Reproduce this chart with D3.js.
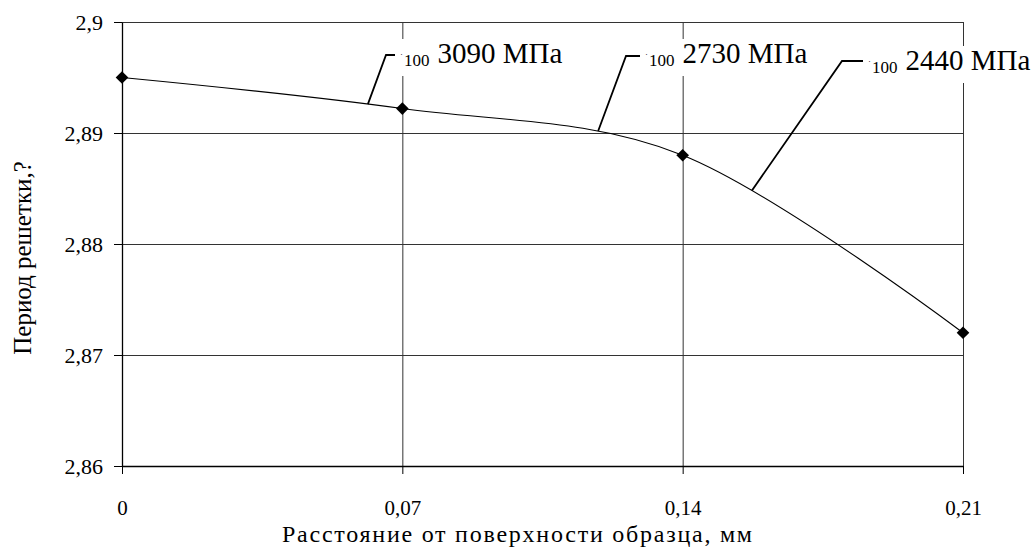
<!DOCTYPE html>
<html>
<head>
<meta charset="utf-8">
<script src="https://cdn.jsdelivr.net/npm/d3@7"></script>
<style>
  body { margin: 0; background: #fff; }
  svg text { font-family: "Liberation Serif", "Tinos", "Times New Roman", "DejaVu Serif", serif !important; fill: #000; }
</style>
</head>
<body>
<svg id="chart" width="1034" height="555"></svg>
<script>
// data
const distances = [0, 0.07, 0.14, 0.21];
const period = [2.895, 2.8922, 2.888, 2.872];
const xTicks = [0, 0.07, 0.14, 0.21];
const yTicks = [2.86, 2.87, 2.88, 2.89, 2.9];
const stressLabels = ["3090 МПа", "2730 МПа", "2440 МПа"];
const stressSub = ["100", "100", "100"];
const stressAt = [0.0614, 0.1189, 0.1573]; // where the leader touches the curve
const xTitle = "Расстояние от поверхности образца, мм";
const yTitle = "Период решетки,?";

// layout
const margin = { left: 122, right: 71, top: 22, bottom: 89 };
const W = 1034, H = 555;
const width = W - margin.left - margin.right,
  height = H - margin.top - margin.bottom;
// leader elbow + text placement (pixels)
const leaderTop = [[386, 55], [626, 56], [842, 61]];
const leaderEnd = [395, 640, 863];
const textBase = [63, 63, 70];

const comma = (d) => String(d).replace(".", ",");

const svg = d3.select("#chart");
const g = svg.append("g").attr("transform", `translate(${margin.left},${margin.top})`);

const x = d3.scaleLinear().domain([0, 0.21]).range([0, width]);
const y = d3.scaleLinear().domain([2.86, 2.9]).range([height, 0]);

// grid
g.append("g")
  .call(d3.axisLeft(y).tickValues(yTicks).tickSize(-width).tickFormat(""))
  .call((s) => s.select(".domain").remove())
  .selectAll("line")
  .attr("stroke", "#333");
g.append("g")
  .attr("transform", `translate(0,${height})`)
  .call(d3.axisBottom(x).tickValues(xTicks).tickSize(-height).tickFormat(""))
  .call((s) => s.select(".domain").remove())
  .selectAll("line")
  .attr("stroke", "#333");

// axes
const yAxis = g.append("g")
  .call(d3.axisLeft(y).tickValues(yTicks).tickSize(8).tickSizeOuter(0).tickPadding(11).tickFormat(comma));
const xAxis = g.append("g")
  .attr("transform", `translate(0,${height})`)
  .call(d3.axisBottom(x).tickValues(xTicks).tickSize(8).tickSizeOuter(0).tickPadding(26).tickFormat(comma));
[yAxis, xAxis].forEach((a) => {
  a.attr("font-family", null).attr("font-size", null);
  a.select(".domain").attr("stroke", "#000").attr("stroke-width", 1.3);
  a.selectAll(".tick line").attr("stroke", "#000");
});
yAxis.selectAll("text").style("font-size", "22px");
xAxis.selectAll("text").style("font-size", "21px");

// curve
const pts = distances.map((d, i) => [x(d), y(period[i])]);
const line = d3.line().curve(d3.curveCardinal.tension(0));
const path = g.append("path")
  .attr("d", line(pts))
  .attr("fill", "none")
  .attr("stroke", "#000")
  .attr("stroke-width", 1.1);

g.selectAll(".pt")
  .data(pts)
  .join("path")
  .attr("class", "pt")
  .attr("d", d3.symbol(d3.symbolSquare, 80))
  .attr("transform", (d) => `translate(${d[0]},${d[1]}) rotate(45)`)
  .attr("fill", "#000");

// find y of the curve at a given pixel x
function yOnPath(node, px) {
  let lo = 0, hi = node.getTotalLength();
  for (let i = 0; i < 40; i++) {
    const mid = (lo + hi) / 2;
    if (node.getPointAtLength(mid).x < px) lo = mid;
    else hi = mid;
  }
  return node.getPointAtLength(lo).y;
}

// stress annotations
const ann = svg.append("g");
stressLabels.forEach((label, i) => {
  const ax = x(stressAt[i]);
  const ay = yOnPath(path.node(), ax);
  const grp = ann.append("g");
  const tx = leaderEnd[i] + 8;
  grp.append("text")
    .attr("x", tx - 3).attr("y", textBase[i] - 6)
    .style("font-size", "9px").text("·");
  const sub = grp.append("text")
    .attr("x", tx + 1).attr("y", textBase[i] + 3)
    .style("font-size", "17px").text(stressSub[i]);
  const subW = sub.node().getComputedTextLength();
  grp.append("text")
    .attr("x", tx + 1 + subW + 8).attr("y", textBase[i])
    .style("font-size", "29px").text(label);
  const bb = grp.node().getBBox();
  grp.insert("rect", ":first-child")
    .attr("x", bb.x - 4).attr("y", bb.y + 2)
    .attr("width", bb.width + 6).attr("height", bb.height + 4)
    .attr("fill", "#fff");
  ann.append("path")
    .attr("d", d3.line()([
      [margin.left + ax, margin.top + ay],
      leaderTop[i],
      [leaderEnd[i], leaderTop[i][1]],
    ]))
    .attr("fill", "none")
    .attr("stroke", "#000")
    .attr("stroke-width", 1.8);
});

// axis titles
svg.append("text")
  .attr("x", 517).attr("y", 542)
  .attr("text-anchor", "middle")
  .attr("textLength", 470)
  .attr("lengthAdjust", "spacing")
  .style("font-size", "24px")
  .text(xTitle);
svg.append("text")
  .attr("transform", "translate(31,258) rotate(-90)")
  .attr("text-anchor", "middle")
  .style("font-size", "25px")
  .text(yTitle);
</script>
</body>
</html>
